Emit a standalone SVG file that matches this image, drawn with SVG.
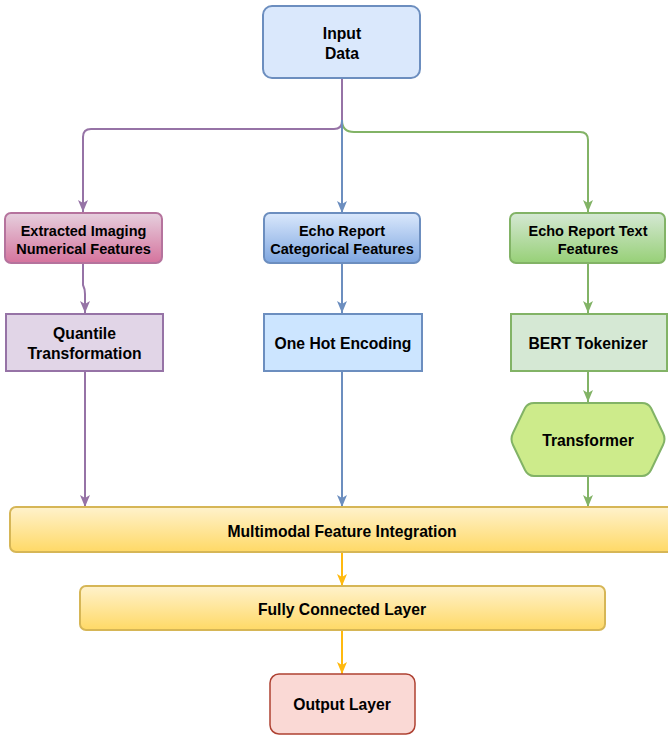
<svg xmlns="http://www.w3.org/2000/svg" width="668" height="736" viewBox="0 0 668 736">
<style>
text{font-family:"Liberation Sans",Arial,Helvetica,sans-serif;font-size:15.7px;font-weight:bold;fill:#000;text-anchor:middle}
text.s{font-size:14.5px}
.c{fill:none;stroke-width:2}
.n{stroke-width:2}
</style>
<defs>
<linearGradient id="gPink" x1="0" y1="0" x2="0" y2="1"><stop offset="0" stop-color="#e6d0de"/><stop offset="1" stop-color="#d5739d"/></linearGradient>
<linearGradient id="gBlue" x1="0" y1="0" x2="0" y2="1"><stop offset="0" stop-color="#dae8fc"/><stop offset="1" stop-color="#7ea6e0"/></linearGradient>
<linearGradient id="gGreen" x1="0" y1="0" x2="0" y2="1"><stop offset="0" stop-color="#d5e8d4"/><stop offset="1" stop-color="#97d077"/></linearGradient>
<linearGradient id="gYellow" x1="0" y1="0" x2="0" y2="1"><stop offset="0" stop-color="#fff2cc"/><stop offset="1" stop-color="#ffd966"/></linearGradient>
<marker id="aP" viewBox="0 0 12 10" refX="12" refY="5" markerWidth="12" markerHeight="10" markerUnits="userSpaceOnUse" orient="auto"><path d="M0,0 L12,5 L0,10 L3,5 z" fill="#9673a6"/></marker>
<marker id="aB" viewBox="0 0 12 10" refX="12" refY="5" markerWidth="12" markerHeight="10" markerUnits="userSpaceOnUse" orient="auto"><path d="M0,0 L12,5 L0,10 L3,5 z" fill="#6c8ebf"/></marker>
<marker id="aG" viewBox="0 0 12 10" refX="12" refY="5" markerWidth="12" markerHeight="10" markerUnits="userSpaceOnUse" orient="auto"><path d="M0,0 L12,5 L0,10 L3,5 z" fill="#82b366"/></marker>
<marker id="aY" viewBox="0 0 12 10" refX="12" refY="5" markerWidth="12" markerHeight="10" markerUnits="userSpaceOnUse" orient="auto"><path d="M0,0 L12,5 L0,10 L3,5 z" fill="#ffb90f"/></marker>
</defs>
<g id="connectors">
<path class="c" stroke="#82b366" d="M342,79 L342,120 Q342,132 354,132 L580,132 Q588,132 588,140 L588,212" marker-end="url(#aG)"/>
<path class="c" stroke="#9673a6" d="M342,79 L342,121 Q342,129 334,129 L91,129 Q83,129 83,137 L83,212" marker-end="url(#aP)"/>
<path class="c" stroke="#6c8ebf" d="M342,120 L342,213" marker-end="url(#aB)"/>
<path class="c" stroke="#9673a6" d="M83,264 L83,285 Q85,289 85,294 L85,313" marker-end="url(#aP)"/>
<path class="c" stroke="#6c8ebf" d="M342,264 L342,313" marker-end="url(#aB)"/>
<path class="c" stroke="#82b366" d="M588,264 L588,313" marker-end="url(#aG)"/>
<path class="c" stroke="#82b366" d="M588,371 L588,402" marker-end="url(#aG)"/>
<path class="c" stroke="#9673a6" d="M85,371 L85,507" marker-end="url(#aP)"/>
<path class="c" stroke="#6c8ebf" d="M342,371 L342,507" marker-end="url(#aB)"/>
<path class="c" stroke="#82b366" d="M588,476 L588,507" marker-end="url(#aG)"/>
<path class="c" stroke="#ffb90f" d="M342,552 L342,586" marker-end="url(#aY)"/>
<path class="c" stroke="#ffb90f" d="M342,630 L342,674" marker-end="url(#aY)"/>
</g>
<g id="input">
<rect class="n" x="263" y="6" width="157" height="72" rx="9" fill="#dae8fc" stroke="#6c8ebf"/>
<text x="342" y="39">Input</text><text x="342" y="59">Data</text>
</g>
<g id="extracted">
<rect class="n" x="5" y="213" width="157" height="50" rx="6" fill="url(#gPink)" stroke="#b5739d"/>
<text class="s" x="83.5" y="236">Extracted Imaging</text><text class="s" x="83.5" y="254">Numerical Features</text>
</g>
<g id="echo-cat">
<rect class="n" x="264" y="213" width="156" height="50" rx="6" fill="url(#gBlue)" stroke="#6c8ebf"/>
<text class="s" x="342" y="236">Echo Report</text><text class="s" x="342" y="254">Categorical Features</text>
</g>
<g id="echo-text">
<rect class="n" x="510" y="213" width="155" height="50" rx="6" fill="url(#gGreen)" stroke="#82b366"/>
<text class="s" x="588" y="236">Echo Report Text</text><text class="s" x="588" y="254">Features</text>
</g>
<g id="quantile">
<rect class="n" x="6" y="314" width="157" height="57" fill="#e1d5e7" stroke="#9673a6"/>
<text x="84.5" y="339">Quantile</text><text x="84.5" y="359">Transformation</text>
</g>
<g id="onehot">
<rect class="n" x="264" y="314" width="158" height="57" fill="#cce5ff" stroke="#6c8ebf"/>
<text x="343" y="349">One Hot Encoding</text>
</g>
<g id="bert">
<rect class="n" x="511" y="314" width="156" height="57" fill="#d5e8d4" stroke="#82b366"/>
<text x="588" y="349">BERT Tokenizer</text>
</g>
<g id="transformer">
<path class="n" d="M534,403 L642,403 Q648,403 651,408 L663,433 Q666,439 663,445 L651,470 Q648,476 642,476 L534,476 Q528,476 525,470 L513,445 Q510,439 513,433 L525,408 Q528,403 534,403 Z" fill="#cdeb8b" stroke="#82b366"/>
<text x="588" y="446">Transformer</text>
</g>
<g id="multimodal">
<rect class="n" x="10" y="507" width="670" height="45" rx="6" fill="url(#gYellow)" stroke="#d6b656"/>
<text x="342" y="537">Multimodal Feature Integration</text>
</g>
<g id="fc">
<rect class="n" x="80" y="586" width="525" height="44" rx="6" fill="url(#gYellow)" stroke="#d6b656"/>
<text x="342" y="615">Fully Connected Layer</text>
</g>
<g id="output">
<rect x="270" y="674" width="145" height="60" rx="9" fill="#fad9d5" stroke="#ae4132" stroke-width="1.5"/>
<text x="342" y="710">Output Layer</text>
</g>
</svg>
